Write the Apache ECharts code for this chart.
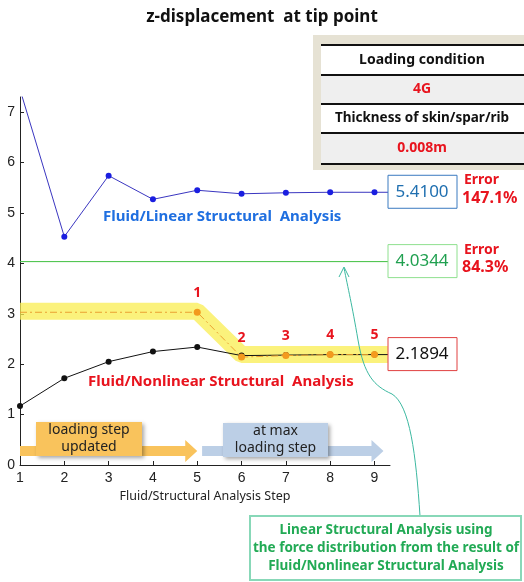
<!DOCTYPE html>
<html>
<head>
<meta charset="utf-8">
<script src="https://cdn.jsdelivr.net/npm/echarts@6/dist/echarts.min.js"></script>
<style>
  html, body { margin: 0; padding: 0; background: #fff; }
  #chart { width: 524px; height: 582px; }
</style>
</head>
<body>
<div id="chart"></div>
<script>
// analysis steps and tip z-displacement values
const steps = [1, 2, 3, 4, 5, 6, 7, 8, 9];
const linearZ = [7.45, 4.53, 5.74, 5.27, 5.45, 5.38, 5.40, 5.41, 5.41];
const nonlinearZ = [1.17, 1.72, 2.05, 2.25, 2.34, 2.17, 2.18, 2.19, 2.19];
const stageSteps = [1, 5, 6, 7, 8, 9];
const stageZ = [3.03, 3.03, 2.14, 2.17, 2.19, 2.19];
const stageLabels = ['', '1', '2', '3', '4', '5'];
const bandSteps = [1, 5, 6, 9.3];
const bandZ = [3.05, 3.05, 2.19, 2.19];
const linearFromNonlinear = 4.0344;
const yTicks = [0, 1, 2, 3, 4, 5, 6, 7];
const xEnd = 9.35;

const font = '"Noto Sans", "Open Sans", sans-serif';
const chart = echarts.init(document.getElementById('chart'));

const zip = (xs, ys) => xs.map((x, i) => [x, ys[i]]);

chart.setOption({
  animation: false,
  title: {
    text: 'z-displacement  at tip point', left: 'center', top: 4,
    textStyle: { fontFamily: font, fontSize: 17, fontWeight: 'bold', color: '#111' }
  },
  grid: { left: 20, right: 134, top: 97, bottom: 117 },
  xAxis: {
    type: 'value', min: 1, max: xEnd, interval: 1,
    name: 'Fluid/Structural Analysis Step', nameLocation: 'middle', nameGap: 24,
    nameTextStyle: { fontFamily: font, fontSize: 12.5, color: '#222' },
    axisLine: { lineStyle: { color: '#222' } },
    axisTick: { inside: true, length: 4, customValues: steps, lineStyle: { color: '#222' } },
    axisLabel: { customValues: steps, margin: 6, fontFamily: '"Liberation Sans", Arial, sans-serif', fontSize: 14, color: '#222' },
    splitLine: { show: false }
  },
  yAxis: {
    type: 'value', min: 0, max: 7.3,
    axisLine: { show: true, lineStyle: { color: '#222' } },
    axisTick: { show: true, inside: true, length: 4, customValues: yTicks, lineStyle: { color: '#222' } },
    axisLabel: { customValues: yTicks, margin: 5, fontFamily: '"Liberation Sans", Arial, sans-serif', fontSize: 14, color: '#222' },
    splitLine: { show: false }
  },
  series: [
    {
      name: 'band', type: 'line', data: zip(bandSteps, bandZ), symbol: 'none', z: 1,
      lineStyle: { width: 17, color: 'rgba(250,238,80,0.75)', join: 'bevel' }
    },
    {
      name: 'linear from nonlinear', type: 'line', data: [[1, linearFromNonlinear], [xEnd, linearFromNonlinear]],
      symbol: 'none', z: 2, lineStyle: { width: 1, color: '#3fbf3f' }
    },
    {
      name: 'Fluid/Linear', type: 'line', z: 3,
      data: zip(steps, linearZ).concat([{ value: [xEnd, linearZ[8]], symbol: 'none' }]),
      symbol: 'circle', symbolSize: 6,
      itemStyle: { color: '#1a1ee0' }, lineStyle: { width: 1, color: '#3a36c0' }
    },
    {
      name: 'Fluid/Nonlinear', type: 'line', z: 3,
      data: zip(steps, nonlinearZ).concat([{ value: [xEnd, nonlinearZ[8]], symbol: 'none' }]),
      symbol: 'circle', symbolSize: 6,
      itemStyle: { color: '#111' }, lineStyle: { width: 1, color: '#111' }
    },
    {
      name: 'stage', type: 'line', z: 4,
      data: zip(stageSteps, stageZ).map((p, i) => ({
        value: p, symbol: i === 0 ? 'none' : 'circle',
        label: { show: i > 0, formatter: stageLabels[i] }
      })),
      symbolSize: 7, itemStyle: { color: '#f39a1e' },
      lineStyle: { width: 1, type: [7, 3, 2, 3], color: '#eaa030' },
      label: { position: 'top', distance: 9, color: '#e8141e', fontFamily: font, fontSize: 14, fontWeight: 'bold' }
    }
  ]
});

const px = (x, y) => chart.convertToPixel({ gridIndex: 0 }, [x, y]);

function valueBox(y, text, border, color) {
  const c = px(xEnd, y);
  return [
    { type: 'rect', shape: { x: c[0] - 2, y: c[1] - 17, width: 69, height: 33 }, style: { fill: '#fff', stroke: border, lineWidth: 1 }, z: 10 },
    { type: 'text', x: c[0] + 32, y: c[1], style: { text, fill: color, font: '17px ' + font, align: 'center', verticalAlign: 'middle' }, z: 11 }
  ];
}

function errorText(y, pct) {
  const c = px(xEnd, y);
  return [
    { type: 'text', x: c[0] + 74, y: c[1] - 12, style: { text: 'Error', fill: '#e8141e', font: 'bold 14px ' + font, align: 'left', verticalAlign: 'middle' }, z: 11 },
    { type: 'text', x: c[0] + 72, y: c[1] + 6, style: { text: pct, fill: '#e8141e', font: 'bold 16px ' + font, align: 'left', verticalAlign: 'middle' }, z: 11 }
  ];
}

function arrow(x0, x1, yc, color) {
  return {
    type: 'polygon', z: 5,
    shape: { points: [[x0, yc - 5], [x1 - 12, yc - 5], [x1 - 12, yc - 11], [x1, yc], [x1 - 12, yc + 11], [x1 - 12, yc + 5], [x0, yc + 5]] },
    style: { fill: color }
  };
}

function noteBox(x, y, w, h, fill, lines) {
  return [
    { type: 'rect', shape: { x, y, width: w, height: h }, style: { fill, shadowBlur: 4, shadowOffsetX: 2, shadowOffsetY: 2, shadowColor: 'rgba(0,0,0,0.35)' }, z: 6 },
    { type: 'text', x: x + w / 2, y: y + h / 2, style: { text: lines, fill: '#222', font: '14px ' + font, align: 'center', verticalAlign: 'middle', lineHeight: 17 }, z: 7 }
  ];
}

const a1 = px(1, 0.25), a5 = px(5, 0.25), a6 = px(5.2, 0.25), a9 = px(9, 0.25);
const tableRows = [
  { y: 45, h: 30, text: 'Loading condition', fill: '#fff', color: '#111' },
  { y: 75, h: 29, text: '4G', fill: '#efefef', color: '#e8141e' },
  { y: 104, h: 29, text: 'Thickness of skin/spar/rib', fill: '#fff', color: '#111' },
  { y: 133, h: 31, text: '0.008m', fill: '#efefef', color: '#e8141e' }
];
const tableFont = ['bold 14px ', 'bold 14px ', 'bold 13.5px ', 'bold 14px '];

const teal = { fill: 'none', stroke: '#3cb8a0', lineWidth: 1 };

const graphic = [
  // loading condition table
  { type: 'rect', shape: { x: 313, y: 35, width: 211, height: 135 }, style: { fill: '#e6e2d4' }, z: 1 },
  ...tableRows.map(r => ({ type: 'rect', shape: { x: 321, y: r.y, width: 203, height: r.h }, style: { fill: r.fill }, z: 2 })),
  ...tableRows.map((r, i) => ({ type: 'text', x: 422, y: r.y + r.h / 2, style: { text: r.text, fill: r.color, font: tableFont[i] + font, align: 'center', verticalAlign: 'middle' }, z: 3 })),
  ...[45, 75, 104, 133, 164].map(y => ({ type: 'line', shape: { x1: 321, y1: y, x2: 524, y2: y }, style: { stroke: '#111', lineWidth: 2 }, z: 4 })),

  // curve labels
  { type: 'text', x: 103, y: 217, style: { text: 'Fluid/Linear Structural  Analysis', fill: '#1f6fe0', font: 'bold 15px ' + font, verticalAlign: 'middle' }, z: 8 },
  { type: 'text', x: 88, y: 382, style: { text: 'Fluid/Nonlinear Structural  Analysis', fill: '#e8141e', font: 'bold 15px ' + font, verticalAlign: 'middle' }, z: 8 },

  ...valueBox(linearZ[8], '5.4100', '#3a7ac0', '#1f6fb0'),
  ...valueBox(linearFromNonlinear, '4.0344', '#8ee08e', '#20a050'),
  ...valueBox(nonlinearZ[8], '2.1894', '#e04040', '#111'),
  ...errorText(linearZ[8], '147.1%'),
  ...errorText(linearFromNonlinear, '84.3%'),

  // loading step arrows
  arrow(a1[0], a5[0], 451, '#f9c35c'),
  arrow(a6[0] - 4, a9[0] + 9, 451, '#bccfe6'),
  ...noteBox(36, 422, 106, 34, '#f9c35c', 'loading step\nupdated'),
  ...noteBox(223, 423, 105, 34, '#bccfe6', 'at max\nloading step'),

  // callout
  { type: 'bezierCurve', z: 9, shape: { x1: 420, y1: 516, cpx1: 416, cpy1: 455, cpx2: 410, cpy2: 405, x2: 392, y2: 394 }, style: teal },
  { type: 'bezierCurve', z: 9, shape: { x1: 392, y1: 394, cpx1: 374, cpy1: 386, cpx2: 364, cpy2: 375, x2: 358, y2: 340 }, style: teal },
  { type: 'bezierCurve', z: 9, shape: { x1: 358, y1: 340, cpx1: 352, cpy1: 305, cpx2: 348, cpy2: 288, x2: 344, y2: 268 }, style: teal },
  { type: 'polyline', z: 9, shape: { points: [[339, 277], [344, 267], [349, 277]] }, style: teal },
  { type: 'rect', shape: { x: 250, y: 516, width: 271, height: 64 }, style: { fill: '#fff', stroke: '#88d8b8', lineWidth: 2 }, z: 10 },
  { type: 'text', x: 386, y: 548, style: { text: 'Linear Structural Analysis using\nthe force distribution from the result of\nFluid/Nonlinear Structural Analysis', fill: '#22aa55', font: 'bold 13.5px ' + font, align: 'center', verticalAlign: 'middle', lineHeight: 18 }, z: 11 }
];

chart.setOption({ graphic });
</script>
</body>
</html>
